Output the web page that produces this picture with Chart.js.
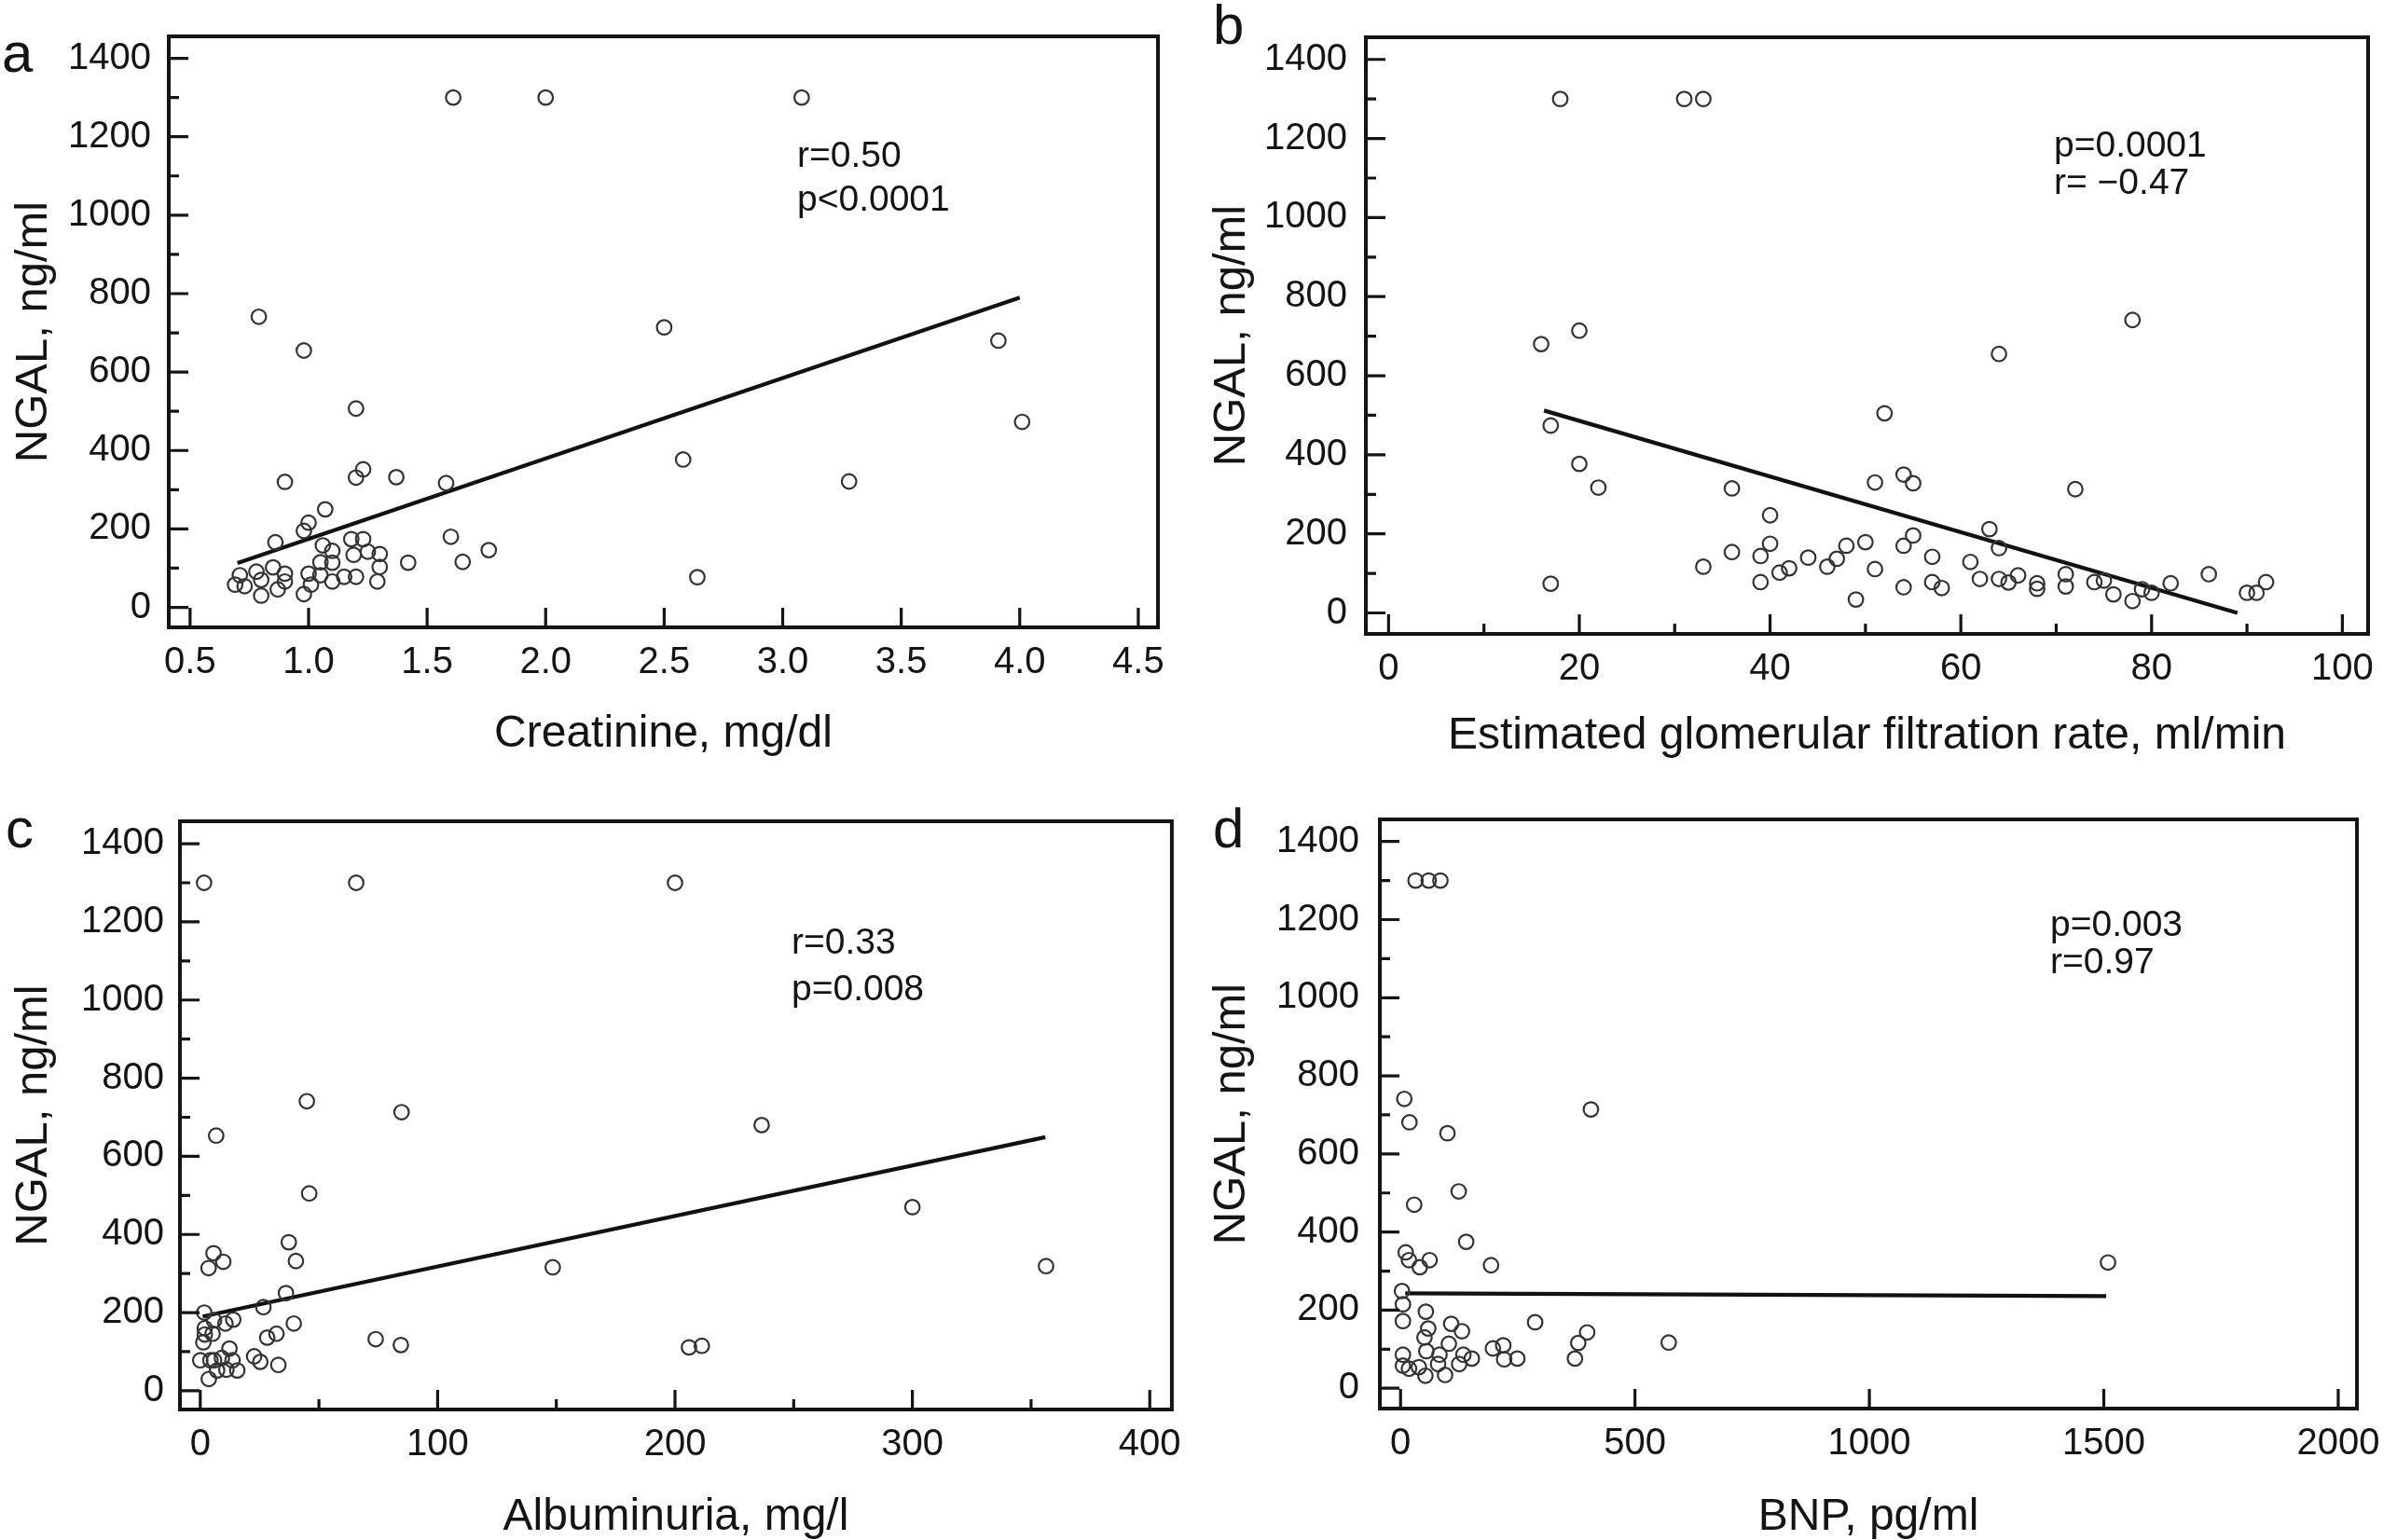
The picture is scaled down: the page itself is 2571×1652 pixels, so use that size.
<!DOCTYPE html>
<html>
<head>
<meta charset="utf-8">
<title>NGAL correlations</title>
<script src="https://cdn.jsdelivr.net/npm/chart.js@4.4.1/dist/chart.umd.min.js"></script>
<style>
  html, body { margin: 0; padding: 0; background: #fff; }
  body { width: 2571px; height: 1652px; position: relative; overflow: hidden;
         font-family: "Liberation Sans", Arial, Helvetica, sans-serif; color: #141414; }
  canvas { position: absolute; }
  .letter { position: absolute; font-size: 60px; line-height: 60px; }
  .note { position: absolute; font-size: 39px; white-space: pre; }
</style>
</head>
<body>
<canvas id="chartA" width="1285" height="826" style="left:0;top:0"></canvas>
<canvas id="chartB" width="1286" height="826" style="left:1285px;top:0"></canvas>
<canvas id="chartC" width="1285" height="826" style="left:0;top:826px"></canvas>
<canvas id="chartD" width="1286" height="826" style="left:1285px;top:826px"></canvas>

<div class="letter" style="left:2px;top:27px">a</div>
<div class="letter" style="left:1301px;top:-3px">b</div>
<div class="letter" style="left:6px;top:859px">c</div>
<div class="letter" style="left:1301px;top:859px">d</div>

<div class="note" style="left:855px;top:143px;line-height:46.7px">r=0.50
p&lt;0.0001</div>
<div class="note" style="left:2203px;top:135px;line-height:40px">p=0.0001
r= −0.47</div>
<div class="note" style="left:849px;top:985px;line-height:50px">r=0.33
p=0.008</div>
<div class="note" style="left:2199px;top:971px;line-height:40px">p=0.003
r=0.97</div>

<script>
// y axis is the same on every panel
const ngalTicks = [0, 200, 400, 600, 800, 1000, 1200, 1400];
const ngalMinor = [100, 300, 500, 700, 900, 1100, 1300];

// a: creatinine
const creatinineTicks = ['0.5', '1.0', '1.5', '2.0', '2.5', '3.0', '3.5', '4.0', '4.5'];
const creatinine = [1.61, 2.0, 3.08, 0.79, 0.98, 2.50, 3.91, 4.01, 2.58, 3.28, 2.64, 1.20,
  0.90, 1.20, 1.23, 1.37, 1.58, 1.07, 1.00, 0.98, 0.86, 1.06, 1.10, 1.18, 1.23, 1.19,
  1.25, 1.30, 1.30, 1.29, 1.42, 1.60, 1.65, 1.76, 1.05, 1.10, 1.05, 1.10, 1.15, 1.20,
  1.00, 1.01, 0.98, 0.90, 0.90, 0.85, 0.87, 0.80, 0.80, 0.78, 0.73, 0.71, 0.69];
const ngalA = [1300, 1300, 1300, 741, 655, 714, 680, 473, 377, 321, 77, 507,
  320, 331, 352, 332, 317, 250, 216, 195, 166, 158, 144, 174, 174, 134,
  142, 136, 103, 66, 114, 180, 116, 146, 115, 114, 82, 66, 78, 78,
  86, 58, 34, 86, 66, 102, 46, 70, 30, 91, 54, 82, 58];
const creatinineFit = [0.7, 4.0];
const ngalFitA = [113, 790];

// b: eGFR
const egfrTicks = ['0', '20', '40', '60', '80', '100'];
const egfrMinor = [10, 30, 50, 70, 90];
const egfr = [18, 31, 33, 16, 20, 64, 78, 52,
  17, 20, 22, 36, 40, 51, 54, 55, 55, 54, 36, 40, 39, 33, 39, 41, 42, 44, 46, 47, 48, 50, 51, 49, 54, 17,
  72, 63, 64, 57, 57, 58, 61, 62, 64, 65, 66, 68, 68, 71, 71, 74, 75, 76, 78, 80, 79, 82, 86, 90, 91, 92];
const ngalB = [1300, 1300, 1300, 680, 714, 655, 741, 505,
  474, 377, 317, 315, 247, 330, 350, 328, 196, 170, 154, 175, 144, 117, 78, 102, 113, 140, 117, 137, 170, 179, 111, 34, 65, 74,
  313, 212, 164, 142, 78, 63, 129, 86, 86, 77, 95, 75, 61, 98, 67, 78, 82, 47, 30, 51, 60, 75, 98, 51, 51, 78];
const egfrFit = [16.3, 89];
const ngalFitB = [512, 0];

// c: albuminuria
const albuminTicks = ['0', '100', '200', '300', '400'];
const albuminMinor = [50, 150, 250, 350];
const albuminuria = [1.6, 65.7, 200, 44.9, 84.8, 236.5, 6.7, 45.9, 300, 148.5, 356.3, 205.9, 211.3, 73.9, 84.5,
  37.3, 40.3, 5.6, 9.7, 3.5, 36.1, 26.6, 1.7, 39.4, 32.1, 28.2, 13.9, 10.6, 5.8, 1.9, 1.9, 5.2, 1.3,
  12.3, 0, 4.3, 5.8, 9.1, 13.6, 15.6, 11.0, 7.1, 3.6, 22.7, 25.3, 32.9];
const ngalC = [1300, 1300, 1300, 741, 713, 680, 653, 505, 470, 316, 319, 111, 115, 132, 117,
  380, 332, 352, 330, 314, 250, 214, 200, 172, 146, 136, 182, 172, 180, 160, 144, 146, 124,
  108, 78, 78, 78, 84, 78, 52, 54, 52, 30, 88, 74, 66];
const albuminFit = [1, 356];
const ngalFitC = [190, 649];

// d: BNP
const bnpTicks = ['0', '500', '1000', '1500', '2000'];
const bnp = [32, 60, 85, 8, 19, 406, 100, 124, 29, 140, 1509, 572,
  11, 18, 41, 62, 193, 3, 5, 5, 54, 59, 51, 108, 131, 103, 55, 83, 134, 152, 125,
  5, 5, 18, 39, 53, 95, 80, 287, 197, 219, 221, 249, 398, 379, 372];
const ngalD = [1300, 1300, 1300, 741, 681, 714, 653, 504, 470, 375, 322, 117,
  348, 328, 310, 328, 315, 249, 215, 172, 196, 153, 130, 165, 146, 114, 95, 86, 86, 76, 62,
  86, 58, 50, 54, 32, 34, 62, 169, 102, 110, 74, 76, 143, 116, 76];
const bnpFit = [10, 1505];
const ngalFitD = [243, 236];

const FONT = '"Liberation Sans", Arial, Helvetica, sans-serif';
const INK = '#141414';

function pairs(xs, ys) {
  return xs.map((x, i) => ({ x: x, y: ys[i] }));
}

function makePanel(id, p) {
  const xMajor = p.xTicks.map(Number);
  const xMinor = p.xMinor || [];

  // frame and inward tick marks, placed with the chart's own scales
  const frame = {
    id: 'frame',
    afterDraw(chart) {
      const { ctx, chartArea: a, scales } = chart;
      ctx.save();
      ctx.strokeStyle = INK;
      ctx.lineWidth = 4;
      ctx.strokeRect(a.left, a.top, a.right - a.left, a.bottom - a.top);
      ctx.lineWidth = 3.2;
      ctx.beginPath();
      xMajor.forEach(v => { const px = scales.x.getPixelForValue(v); ctx.moveTo(px, a.bottom); ctx.lineTo(px, a.bottom - 21); });
      xMinor.forEach(v => { const px = scales.x.getPixelForValue(v); ctx.moveTo(px, a.bottom); ctx.lineTo(px, a.bottom - 11); });
      ngalTicks.forEach(v => { const py = scales.y.getPixelForValue(v); ctx.moveTo(a.left, py); ctx.lineTo(a.left + 21, py); });
      ngalMinor.forEach(v => { const py = scales.y.getPixelForValue(v); ctx.moveTo(a.left, py); ctx.lineTo(a.left + 11, py); });
      ctx.stroke();
      ctx.restore();
    }
  };

  return new Chart(document.getElementById(id), {
    type: 'scatter',
    data: {
      datasets: [
        {
          data: pairs(p.xs, p.ys),
          pointStyle: 'circle',
          pointRadius: 7.8,
          pointHoverRadius: 7.8,
          pointBorderWidth: 2.2,
          pointBorderColor: '#333',
          pointBackgroundColor: 'rgba(0,0,0,0)'
        },
        {
          data: pairs(p.fitX, p.fitY),
          showLine: true,
          pointRadius: 0,
          borderColor: '#111',
          borderWidth: 4.2
        }
      ]
    },
    options: {
      responsive: false,
      animation: false,
      events: [],
      layout: { padding: { top: p.box.top, right: p.w - p.box.right, left: 0, bottom: 0 } },
      plugins: { legend: { display: false }, tooltip: { enabled: false } },
      scales: {
        x: {
          type: 'linear',
          bounds: 'data',
          min: p.xMin,
          max: p.xMax,
          grid: { display: false, drawTicks: false },
          border: { display: false },
          ticks: {
            autoSkip: false, maxRotation: 0, padding: 18, color: INK,
            font: { family: FONT, size: 40, lineHeight: 1 },
            callback: (v, i) => p.xTicks[i]
          },
          afterBuildTicks: s => { s.ticks = xMajor.map(v => ({ value: v })); },
          afterFit: s => { s.height = p.h - p.box.bottom; },
          title: {
            display: true, text: p.xTitle, color: INK,
            font: { family: FONT, size: 48, lineHeight: 1 },
            padding: { top: 0, bottom: p.xTitlePad }
          }
        },
        y: {
          type: 'linear',
          bounds: 'data',
          min: p.yMin,
          max: p.yMax,
          grid: { display: false, drawTicks: false },
          border: { display: false },
          ticks: {
            autoSkip: false, padding: p.yPad, color: INK,
            font: { family: FONT, size: 40, lineHeight: 1 },
            callback: v => String(v)
          },
          afterBuildTicks: s => { s.ticks = ngalTicks.map(v => ({ value: v })); },
          afterFit: s => { s.width = p.box.left; },
          title: {
            display: true, text: 'NGAL, ng/ml', color: INK,
            font: { family: FONT, size: 49, lineHeight: 1 },
            padding: { top: 12, bottom: 0 }
          }
        }
      }
    },
    plugins: [frame]
  });
}

makePanel('chartA', {
  w: 1285, h: 826, box: { left: 181, top: 37, right: 1242, bottom: 673 },
  xMin: 0.41, xMax: 4.583, yMin: -51, yMax: 1456,
  xTicks: creatinineTicks, xs: creatinine, ys: ngalA, fitX: creatinineFit, fitY: ngalFitA,
  xTitle: 'Creatinine, mg/dl', xTitlePad: 14, yPad: 19
});

makePanel('chartB', {
  w: 1286, h: 826, box: { left: 180, top: 31, right: 1255, bottom: 680 },
  xMin: -2.38, xMax: 102.7, yMin: -53, yMax: 1456,
  xTicks: egfrTicks, xMinor: egfrMinor, xs: egfr, ys: ngalB, fitX: egfrFit, fitY: ngalFitB,
  xTitle: 'Estimated glomerular filtration rate, ml/min', xTitlePad: 12, yPad: 20
});

makePanel('chartC', {
  w: 1285, h: 826, box: { left: 193, top: 55, right: 1267, bottom: 686 },
  xMin: -8.56, xMax: 409.3, yMin: -48, yMax: 1457.5,
  xTicks: albuminTicks, xMinor: albuminMinor, xs: albuminuria, ys: ngalC, fitX: albuminFit, fitY: ngalFitC,
  xTitle: 'Albuminuria, mg/l', xTitlePad: 0, yPad: 17
});

makePanel('chartD', {
  w: 1286, h: 826, box: { left: 195, top: 53, right: 1256, bottom: 685 },
  xMin: -44.2, xMax: 2040, yMin: -52, yMax: 1456.6,
  xTicks: bnpTicks, xs: bnp, ys: ngalD, fitX: bnpFit, fitY: ngalFitD,
  xTitle: 'BNP, pg/ml', xTitlePad: 0, yPad: 22
});
</script>
</body>
</html>
